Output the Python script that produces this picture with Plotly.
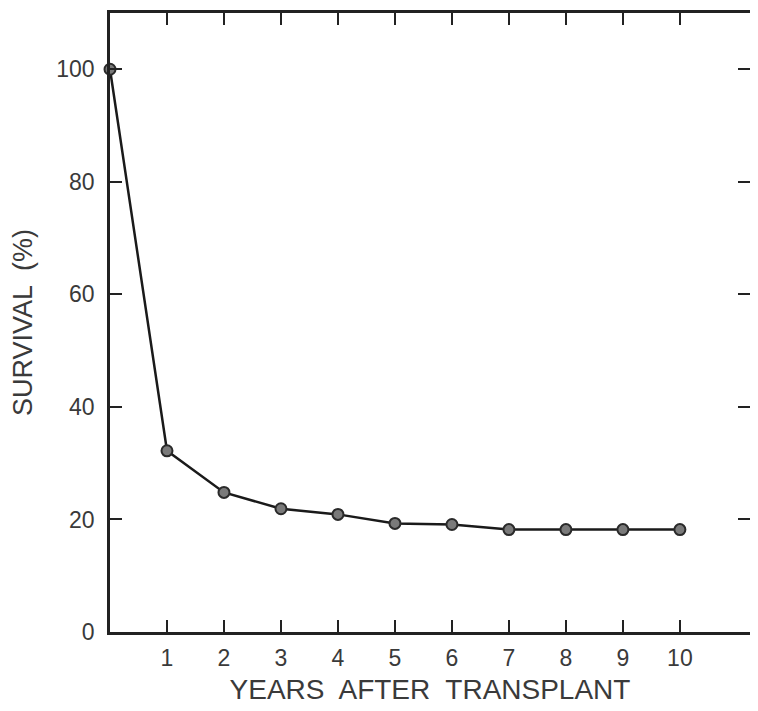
import plotly.graph_objects as go

years = [0, 1, 2, 3, 4, 5, 6, 7, 8, 9, 10]
survival = [100, 32.2, 24.8, 21.9, 20.9, 19.3, 19.1, 18.2, 18.2, 18.2, 18.2]
x_ticks = [1, 2, 3, 4, 5, 6, 7, 8, 9, 10]
y_ticks = [0, 20, 40, 60, 80, 100]

fig = go.Figure()
fig.add_trace(go.Scatter(
    x=years, y=survival, mode="lines+markers",
    line=dict(color="#1a1a1a", width=2.5),
    marker=dict(size=11, color="#7a7a7a", line=dict(color="#2a2a2a", width=2)),
    cliponaxis=False,
))

font = dict(family="Liberation Sans, Arial, sans-serif", size=23, color="#3a3a3a")
fig.update_layout(
    width=750, height=703,
    margin=dict(l=102, r=8, t=2, b=79),
    paper_bgcolor="white", plot_bgcolor="white",
    showlegend=False,
    font=font,
)
fig.update_xaxes(
    range=[0, 11.23], tickvals=x_ticks, ticktext=[str(v) for v in x_ticks],
    ticks="inside", ticklen=12, tickwidth=2, tickcolor="#222",
    showline=True, linewidth=2.5, linecolor="#222", mirror="ticks",
    showgrid=False, zeroline=False, ticklabelstandoff=4,
    title=dict(text="YEARS  AFTER  TRANSPLANT", standoff=10, font=dict(size=28)),
)
fig.update_yaxes(
    range=[0, 110], tickvals=y_ticks, ticktext=[str(v) for v in y_ticks],
    ticks="inside", ticklen=12, tickwidth=2, tickcolor="#222",
    showline=True, linewidth=2.5, linecolor="#222", mirror="ticks",
    showgrid=False, zeroline=False, ticklabelstandoff=8,
    title=dict(text="SURVIVAL  (%)", standoff=16, font=dict(size=27)),
)
fig.write_html("out.html")
